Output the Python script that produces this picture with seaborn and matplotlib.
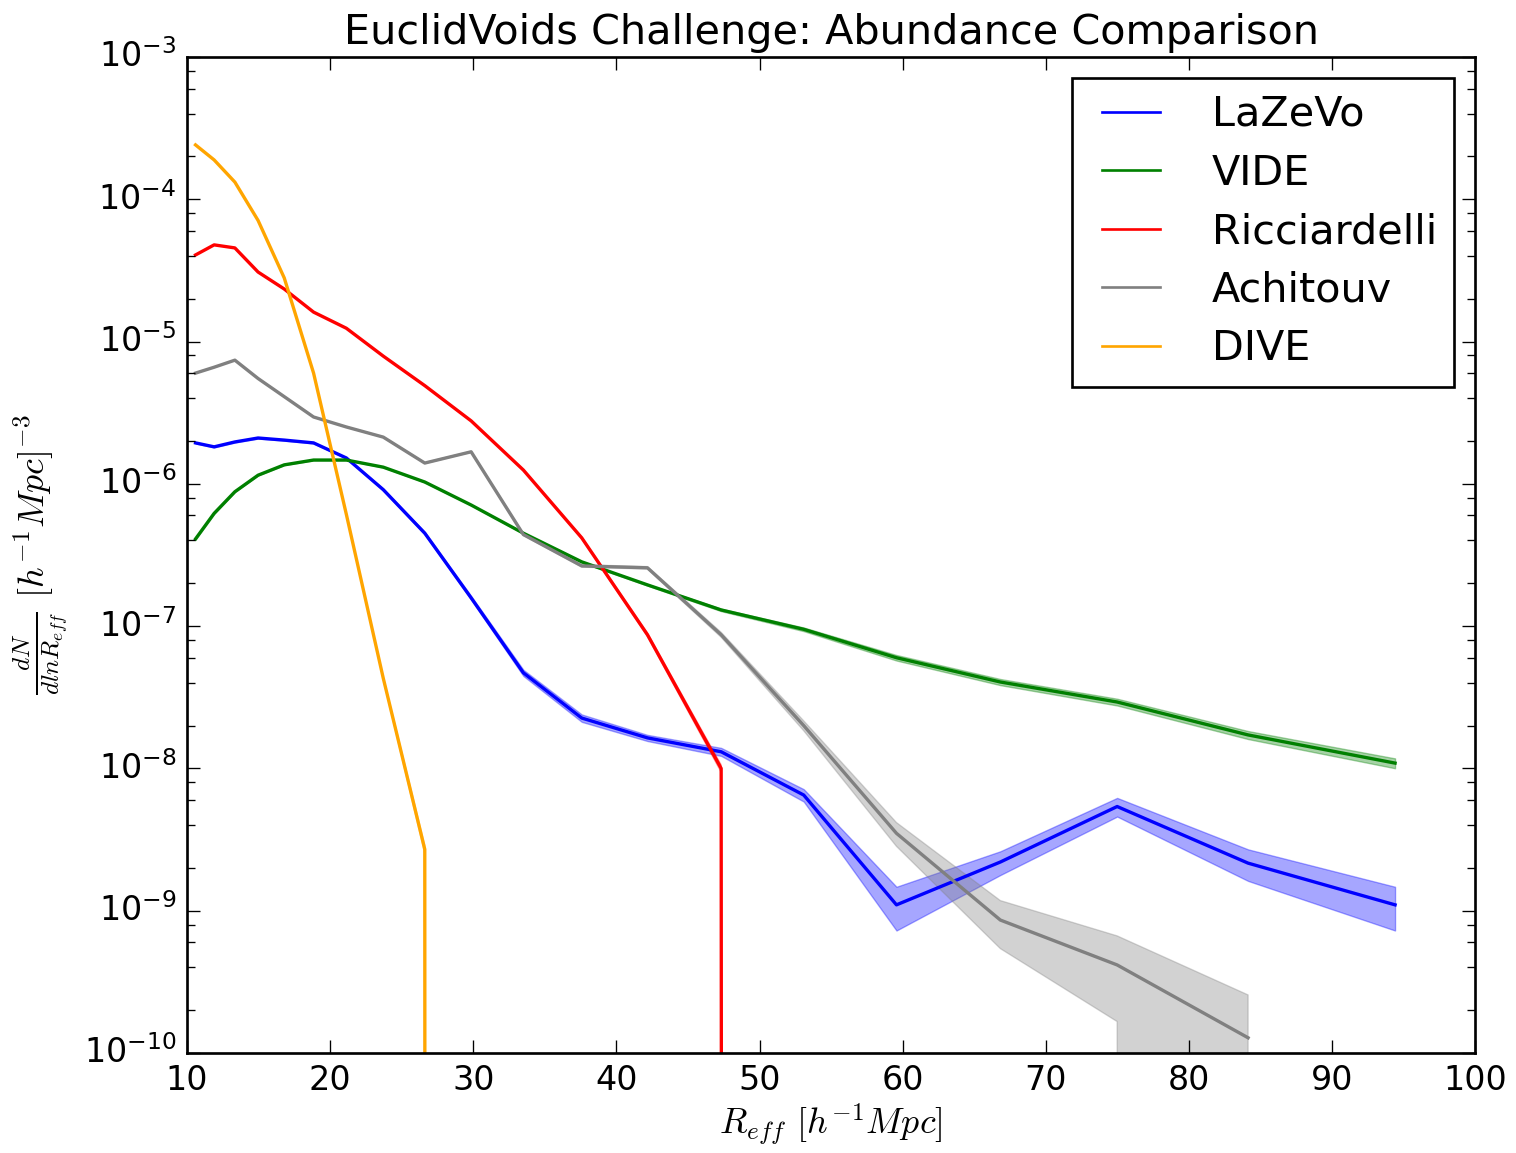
import numpy as np
import matplotlib
matplotlib.use("Agg")
import matplotlib.pyplot as plt
import seaborn as sns
from matplotlib.ticker import LogLocator, NullFormatter

# bin centres of the void radius [h^-1 Mpc]
r_eff = [10.59, 11.89, 13.34, 14.96, 16.79, 18.84, 21.13, 23.71, 26.61, 29.85,
         33.50, 37.58, 42.17, 47.32, 53.09, 59.57, 66.83, 74.99, 84.14, 94.41]

# abundances, with fractional errors for the shaded bands
lazevo = [1.94e-6, 1.82e-6, 1.97e-6, 2.10e-6, 2.03e-6, 1.94e-6, 1.52e-6, 9.1e-7, 4.5e-7, 1.58e-7,
          4.7e-8, 2.26e-8, 1.64e-8, 1.31e-8, 6.5e-9, 1.10e-9, 2.2e-9, 5.4e-9, 2.16e-9, 1.10e-9]
lazevo_err = [0.01, 0.01, 0.01, 0.01, 0.01, 0.01, 0.01, 0.015, 0.02, 0.03,
              0.05, 0.06, 0.05, 0.065, 0.10, 0.34, 0.19, 0.15, 0.25, 0.34]

vide = [4.1e-7, 6.2e-7, 8.8e-7, 1.15e-6, 1.36e-6, 1.47e-6, 1.47e-6, 1.31e-6, 1.03e-6, 7.1e-7,
        4.5e-7, 2.83e-7, 1.95e-7, 1.30e-7, 9.5e-8, 6.0e-8, 4.05e-8, 2.93e-8, 1.72e-8, 1.09e-8]
vide_err = [0.01, 0.01, 0.005, 0.005, 0.005, 0.005, 0.005, 0.005, 0.005, 0.005,
            0.008, 0.01, 0.012, 0.02, 0.03, 0.045, 0.05, 0.055, 0.065, 0.08]

ricciardelli = [4.06e-5, 4.78e-5, 4.55e-5, 3.08e-5, 2.34e-5, 1.61e-5, 1.24e-5, 7.9e-6, 4.9e-6, 2.77e-6,
                1.25e-6, 4.17e-7, 8.7e-8, 1.0e-8, 0, 0, 0, 0, 0, 0]
ricciardelli_err = [0.003, 0.003, 0.003, 0.003, 0.003, 0.003, 0.003, 0.004, 0.005, 0.006,
                    0.008, 0.015, 0.03, 0.06, 0, 0, 0, 0, 0, 0]

achitouv = [6.0e-6, 6.6e-6, 7.4e-6, 5.5e-6, 4.1e-6, 2.95e-6, 2.51e-6, 2.13e-6, 1.40e-6, 1.68e-6,
            4.4e-7, 2.65e-7, 2.57e-7, 8.7e-8, 2.0e-8, 3.5e-9, 8.6e-10, 4.16e-10, 1.28e-10, np.nan]
achitouv_err = [0.005, 0.005, 0.005, 0.005, 0.005, 0.005, 0.005, 0.005, 0.008, 0.008,
                0.015, 0.02, 0.02, 0.04, 0.08, 0.19, 0.37, 0.6, 1.0, np.nan]

dive = [2.41e-4, 1.89e-4, 1.32e-4, 7.1e-5, 2.8e-5, 6.0e-6, 6.1e-7, 4.3e-8, 2.7e-9, 0,
        0, 0, 0, 0, 0, 0, 0, 0, 0, 0]
dive_err = [0.002, 0.002, 0.002, 0.002, 0.002, 0.002, 0.005, 0.02, 0.07, 0,
            0, 0, 0, 0, 0, 0, 0, 0, 0, 0]

names = ['LaZeVo', 'VIDE', 'Ricciardelli', 'Achitouv', 'DIVE']
colors = ['b', 'g', 'r', 'gray', 'orange']

plt.style.use('classic')
plt.rcParams['axes.unicode_minus'] = False
plt.rcParams['xtick.major.size'] = 5
plt.rcParams['ytick.major.size'] = 5
plt.rcParams['xtick.minor.size'] = 3
plt.rcParams['ytick.minor.size'] = 3

fig, ax = plt.subplots(figsize=(1516 / 192, 1153 / 192), dpi=192, facecolor='white')
fig.subplots_adjust(left=0.1234, right=0.973, top=0.9506, bottom=0.0867)

series = [lazevo, vide, ricciardelli, achitouv, dive]
errors = [lazevo_err, vide_err, ricciardelli_err, achitouv_err, dive_err]

for name, vals, err, color in zip(names, series, errors, colors):
    vals = np.array(vals, dtype=float)
    err = np.array(err, dtype=float)
    sns.lineplot(x=r_eff, y=vals, color=color, lw=1.25, label=name, errorbar=None, ax=ax)
    ax.fill_between(r_eff, vals * (1 - err), vals * (1 + err), color=color, alpha=0.35, lw=0.5)

ax.set_yscale('log')
ax.set_xlim(10, 100)
ax.set_ylim(1e-10, 1e-3)
ax.yaxis.set_major_locator(LogLocator(base=10, numticks=20))
ax.yaxis.set_minor_locator(LogLocator(base=10, subs=[2, 4, 6, 8], numticks=20))
ax.yaxis.set_minor_formatter(NullFormatter())
ax.tick_params(axis='both', which='major', labelsize=12.5)

ax.set_title('EuclidVoids Challenge: Abundance Comparison', fontsize=15.5)
ax.set_xlabel(r'$R_{eff}$ $[h^{-1}Mpc]$', fontsize=13.5, labelpad=2)
ax.set_ylabel(r'$\frac{dN}{dlnR_{eff}}$ $[h^{-1}Mpc]^{-3}$', fontsize=13.5)

leg = ax.legend(loc='upper right', fontsize=15.5, numpoints=2, frameon=True, fancybox=False,
                edgecolor='black', handlelength=2.0, handletextpad=0.95, labelspacing=0.45,
                borderpad=0.42)
for line in leg.get_lines():
    line.set_linewidth(1.0)

plt.savefig('out.png', dpi=192, facecolor='white')
